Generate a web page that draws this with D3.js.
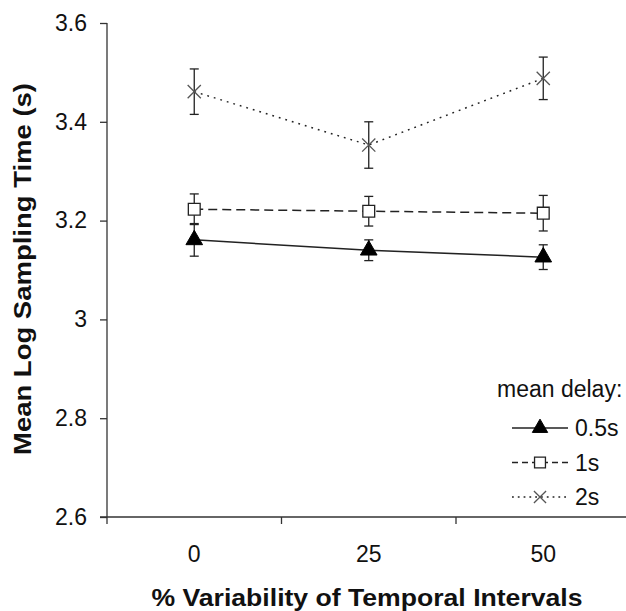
<!DOCTYPE html>
<html>
<head>
<meta charset="utf-8">
<script src="https://cdn.jsdelivr.net/npm/d3@7"></script>
<style>
  body { margin: 0; background: #fff; }
  svg { display: block; font-family: "Liberation Sans", Arial, sans-serif; }
</style>
</head>
<body>
<div id="chart"></div>
<script>
// categories on the x axis (% variability)
const categories = ["0", "25", "50"];
const yTicks = [2.6, 2.8, 3.0, 3.2, 3.4, 3.6];

// series: mean delay
const seriesNames = ["0.5s", "1s", "2s"];
const mean05 = [3.161, 3.140, 3.126];
const err05 = [0.033, 0.021, 0.025];
const mean1 = [3.223, 3.219, 3.215];
const err1 = [0.031, 0.030, 0.036];
const mean2 = [3.461, 3.353, 3.488];
const err2 = [0.046, 0.047, 0.043];

const width = 626, height = 611;
const margin = { top: 23, left: 107, bottom: 94 };

const series = [
  { name: seriesNames[0], means: mean05, errs: err05, dash: null, legendDash: null, symbol: d3.symbolTriangle, size: 120, fill: "#000", stroke: "#000", sw: 1 },
  { name: seriesNames[1], means: mean1, errs: err1, dash: "9,5", legendDash: "6,4", symbol: d3.symbolSquare, size: 140, fill: "#fff", stroke: "#222", sw: 1.3 },
  { name: seriesNames[2], means: mean2, errs: err2, dash: "1.8,5", legendDash: "1.8,4", symbol: d3.symbolX || d3.symbolCross, size: 115, fill: "none", stroke: "#555", sw: 1.3 }
];

const svg = d3.select("#chart")
  .append("svg")
  .attr("width", width)
  .attr("height", height);

const x = d3.scaleBand()
  .domain(categories)
  .range([margin.left, 630.5])
  .padding(0);

const y = d3.scaleLinear()
  .domain([2.6, 3.6])
  .range([height - margin.bottom, margin.top]);

// y axis
const yAxis = d3.axisLeft(y)
  .tickValues(yTicks)
  .tickSize(7)
  .tickPadding(13)
  .tickFormat((d) => String(+d.toFixed(1)));

const gy = svg.append("g")
  .attr("transform", "translate(" + margin.left + ",0)")
  .call(yAxis);
gy.select(".domain").attr("stroke", "#333").attr("stroke-width", 1.3).attr("d", "M0," + y(3.6) + "V" + (y(2.6) + 7));
gy.selectAll(".tick line").attr("stroke", "#333").attr("stroke-width", 1.3);
gy.selectAll(".tick text")
  .attr("font-size", 23)
  .attr("fill", "#111")
  .attr("font-family", "Liberation Sans, Arial, sans-serif");

// x axis: line with ticks at category boundaries
const gx = svg.append("g");
gx.append("line")
  .attr("x1", margin.left - 7)
  .attr("x2", width + 5)
  .attr("y1", y(2.6))
  .attr("y2", y(2.6))
  .attr("stroke", "#333")
  .attr("stroke-width", 1.3);

const boundaries = categories.map((c) => x(c)).concat([x(categories[categories.length - 1]) + x.bandwidth()]);
gx.selectAll("line.bt")
  .data(boundaries.slice(1))
  .enter()
  .append("line")
  .attr("class", "bt")
  .attr("x1", (d) => d)
  .attr("x2", (d) => d)
  .attr("y1", y(2.6))
  .attr("y2", y(2.6) + 7)
  .attr("stroke", "#333")
  .attr("stroke-width", 1.3);

gx.selectAll("text")
  .data(categories)
  .enter()
  .append("text")
  .attr("x", (d) => x(d) + x.bandwidth() / 2)
  .attr("y", y(2.6) + 45)
  .attr("text-anchor", "middle")
  .attr("font-size", 23)
  .attr("fill", "#111")
  .text((d) => d);

// axis titles
svg.append("text")
  .attr("x", 367)
  .attr("y", 606)
  .attr("text-anchor", "middle")
  .attr("font-size", 24)
  .attr("font-weight", "bold")
  .attr("fill", "#111")
  .attr("textLength", 431)
  .attr("lengthAdjust", "spacingAndGlyphs")
  .text("% Variability of Temporal Intervals");

svg.append("text")
  .attr("transform", "translate(31,269) rotate(-90)")
  .attr("text-anchor", "middle")
  .attr("font-size", 24)
  .attr("font-weight", "bold")
  .attr("fill", "#111")
  .attr("textLength", 372)
  .attr("lengthAdjust", "spacingAndGlyphs")
  .text("Mean Log Sampling Time (s)");

const cx = (i) => x(categories[i]) + x.bandwidth() / 2;

// lines
const line = d3.line()
  .x((d, i) => cx(i))
  .y((d) => y(d));

series.forEach((s) => {
  svg.append("path")
    .datum(s.means)
    .attr("d", line)
    .attr("fill", "none")
    .attr("stroke", "#222")
    .attr("stroke-width", 1.5)
    .attr("stroke-dasharray", s.dash);
});

// error bars
series.forEach((s) => {
  const g = svg.append("g");
  s.means.forEach((m, i) => {
    const px = cx(i);
    g.append("line")
      .attr("x1", px).attr("x2", px)
      .attr("y1", y(m + s.errs[i])).attr("y2", y(m - s.errs[i]))
      .attr("stroke", "#222").attr("stroke-width", 1.3);
    [m + s.errs[i], m - s.errs[i]].forEach((v) => {
      g.append("line")
        .attr("x1", px - 4.5).attr("x2", px + 4.5)
        .attr("y1", y(v)).attr("y2", y(v))
        .attr("stroke", "#222").attr("stroke-width", 1.3);
    });
  });
});

// markers
series.forEach((s) => {
  svg.append("g")
    .selectAll("path")
    .data(s.means)
    .enter()
    .append("path")
    .attr("transform", (d, i) => "translate(" + cx(i) + "," + y(d) + ")" + (s.symbol === d3.symbolCross ? " rotate(45)" : ""))
    .attr("d", d3.symbol().type(s.symbol).size(s.size))
    .attr("fill", s.fill)
    .attr("stroke", s.stroke)
    .attr("stroke-width", s.sw);
});

// legend
const legend = svg.append("g");
legend.append("text")
  .attr("x", 497)
  .attr("y", 397)
  .attr("font-size", 23)
  .attr("fill", "#111")
  .text("mean delay:");

const item = legend.selectAll("g.item")
  .data(series)
  .enter()
  .append("g")
  .attr("class", "item")
  .attr("transform", (d, i) => "translate(0," + (428 + i * 34.5) + ")");

item.append("line")
  .attr("x1", 512).attr("x2", 568)
  .attr("stroke", "#222")
  .attr("stroke-width", 1.5)
  .attr("stroke-dasharray", (d) => d.legendDash);

item.append("path")
  .attr("transform", (d) => "translate(540,0)" + (d.symbol === d3.symbolCross ? " rotate(45)" : ""))
  .attr("d", (d) => d3.symbol().type(d.symbol).size(d.size * 0.85)())
  .attr("fill", (d) => d.fill)
  .attr("stroke", (d) => d.stroke)
  .attr("stroke-width", (d) => d.sw);

item.append("text")
  .attr("x", 575)
  .attr("y", 8)
  .attr("font-size", 23)
  .attr("fill", "#111")
  .text((d) => d.name);
</script>
</body>
</html>
